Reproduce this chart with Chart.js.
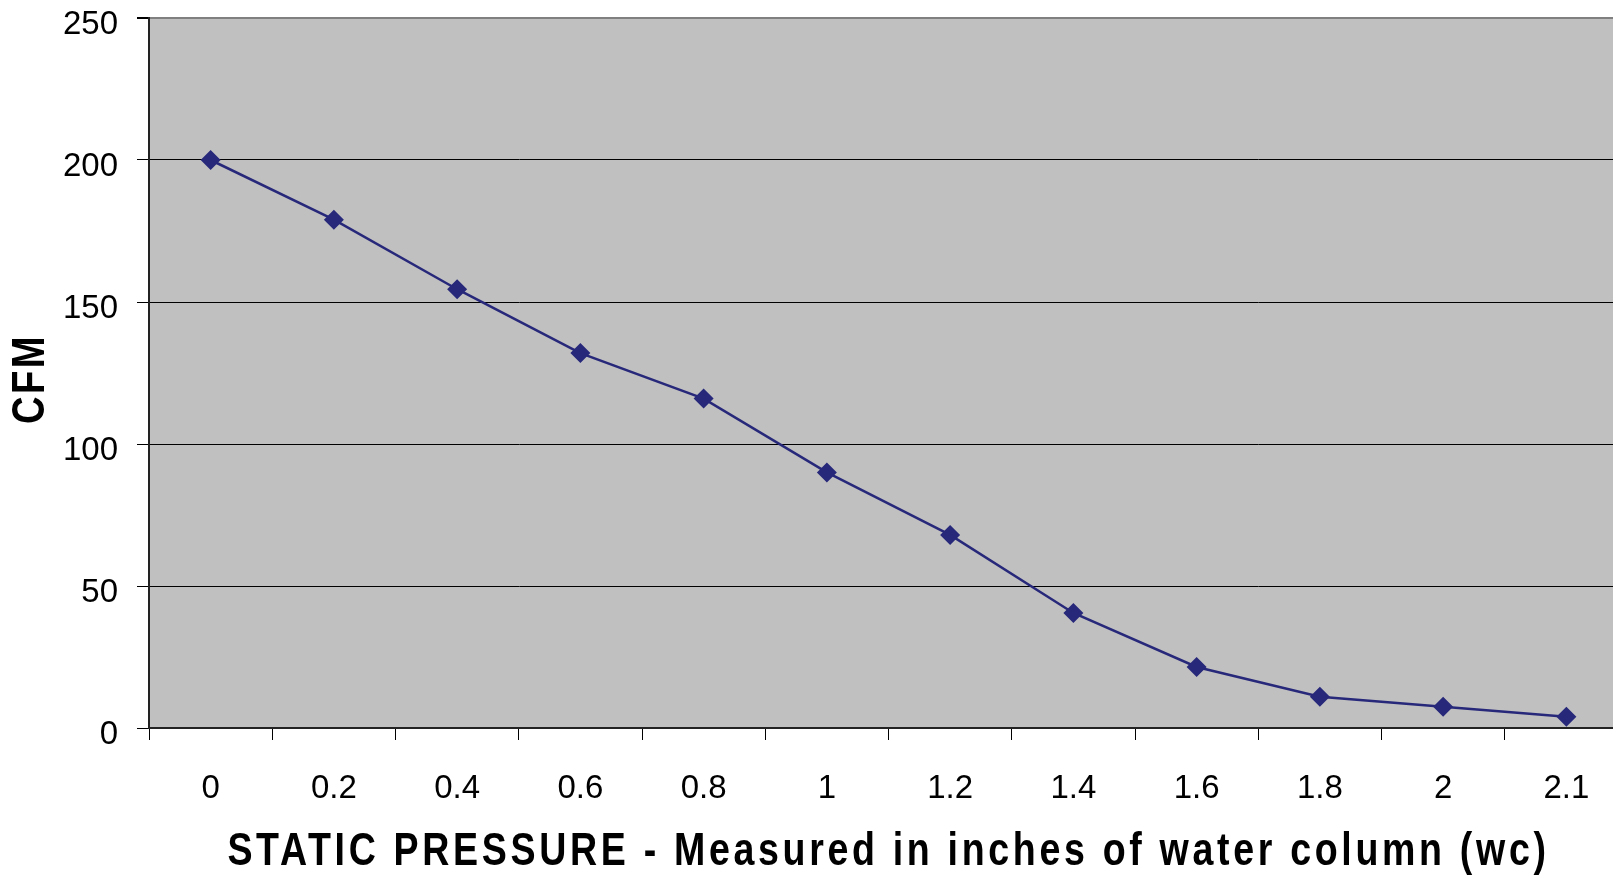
<!DOCTYPE html>
<html lang="en">
  <head>
    <meta charset="UTF-8" />
    <title>CFM vs Static Pressure</title>
    <script src="https://cdn.jsdelivr.net/npm/chart.js"></script>
    <style>
      html, body { margin: 0; padding: 0; background: #fff; overflow: hidden; }
      #wrap { width: 1613px; height: 876px; overflow: hidden; }
      canvas { display: block; }
    </style>
  </head>
  <body>
    <div id="wrap">
      <canvas id="chart" width="1638" height="876"></canvas>
    </div>

    <script>
      // -------- data -------- //
      const pressureLabels = ["0", "0.2", "0.4", "0.6", "0.8", "1", "1.2", "1.4", "1.6", "1.8", "2", "2.1"];
      const cfmValues = [200, 179, 154.5, 132, 116, 90, 68, 40.5, 21.5, 11, 7.5, 4];
      const yTicks = [0, 50, 100, 150, 200, 250];

      const FONT = "'Liberation Sans', Arial, sans-serif";
      // original titles are spaced-out Arial Narrow bold: add spacing, then squeeze to a target length
      const titleStyle = {
        x: { spacing: "4.5px", length: 1448, shift: 0 },
        y: { spacing: "3px", length: 90, shift: 6 },
      };

      // gray plot background
      const plotBg = {
        id: "plotBg",
        beforeDraw(chart) {
          const { ctx, chartArea: a } = chart;
          ctx.save();
          ctx.fillStyle = "#c0c0c0";
          ctx.fillRect(a.left, a.top, a.right - a.left, a.bottom - a.top);
          ctx.restore();
        },
      };

      // setting ctx.font may reset letterSpacing, so re-apply it after every font change
      const fontDesc = Object.getOwnPropertyDescriptor(CanvasRenderingContext2D.prototype, "font");

      const narrowTitles = {
        id: "narrowTitles",
        afterLayout(chart) {
          Object.keys(titleStyle).forEach((id) => {
            const s = chart.scales[id];
            if (!s || s._narrow) return;
            const st = titleStyle[id];
            const orig = s.drawTitle;
            s.drawTitle = function (...args) {
              const c = this.ctx;
              const t = this.options.title;
              c.save();
              c.font = Chart.helpers.toFont(t.font).string;
              c.letterSpacing = st.spacing;
              const k = st.length / c.measureText(t.text).width;
              if (this.isHorizontal()) {
                const cx = (this.left + this.right) / 2;
                c.translate(cx, 0);
                c.scale(k, 1);
                c.translate(-cx, 0);
              } else {
                const cy = (this.top + this.bottom) / 2 + st.shift;
                c.translate(0, cy);
                c.scale(1, k);
                c.translate(0, -cy + st.shift);
              }
              Object.defineProperty(c, "font", {
                configurable: true,
                get() { return fontDesc.get.call(this); },
                set(v) { fontDesc.set.call(this, v); this.letterSpacing = st.spacing; },
              });
              try {
                orig.apply(this, args);
              } finally {
                delete c.font;
                c.restore();
              }
            };
            s._narrow = true;
          });
        },
      };

      new Chart(document.getElementById("chart"), {
        type: "line",
        data: {
          labels: pressureLabels,
          datasets: [
            {
              data: cfmValues,
              borderColor: "#27287a",
              backgroundColor: "#27287a",
              borderWidth: 2.5,
              pointStyle: "rectRot",
              pointRadius: 10,
              pointBorderWidth: 0,
              tension: 0,
            },
          ],
        },
        options: {
          responsive: false,
          animation: false,
          layout: { padding: { top: 18, left: 0, right: 0, bottom: 0 } },
          plugins: { legend: { display: false }, tooltip: { enabled: false } },
          scales: {
            x: {
              offset: true,
              grid: { display: true, drawOnChartArea: false, drawTicks: true, tickLength: 12, offset: true, color: "#000", tickColor: "#000" },
              border: { color: "#222", width: 2 },
              ticks: { color: "#000", font: { family: FONT, size: 33 }, padding: 29, maxRotation: 0, autoSkip: false },
              title: {
                display: true,
                text: "STATIC PRESSURE - Measured in inches of water column (wc)",
                color: "#000",
                font: { family: FONT, size: 46, weight: "bold", lineHeight: 1.05 },
                padding: { top: 0, bottom: 0 },
              },
              afterFit: (s) => {
                s.height = 148;
                s.paddingLeft = 0;
                s.paddingRight = 0;
              },
            },
            y: {
              min: 0,
              max: 250,
              afterBuildTicks: (s) => { s.ticks = yTicks.map((v) => ({ value: v })); },
              grid: {
                color: (c) => (c.tick && c.tick.value === 250 ? "#808080" : "#000"),
                lineWidth: (c) => (c.tick && c.tick.value === 250 ? 2 : 1),
                tickColor: "#000",
                tickLength: 12,
              },
              border: { color: "#222", width: 2 },
              ticks: { color: "#000", font: { family: FONT, size: 33 }, padding: 19, labelOffset: 7 },
              title: {
                display: true,
                text: "CFM",
                color: "#000",
                font: { family: FONT, size: 46, weight: "bold" },
                padding: { top: 4, bottom: 4 },
              },
              afterFit: (s) => {
                s.width = 149;
                s.paddingTop = 0;
                s.paddingBottom = 0;
              },
            },
          },
        },
        plugins: [plotBg, narrowTitles],
      });
    </script>
  </body>
</html>
